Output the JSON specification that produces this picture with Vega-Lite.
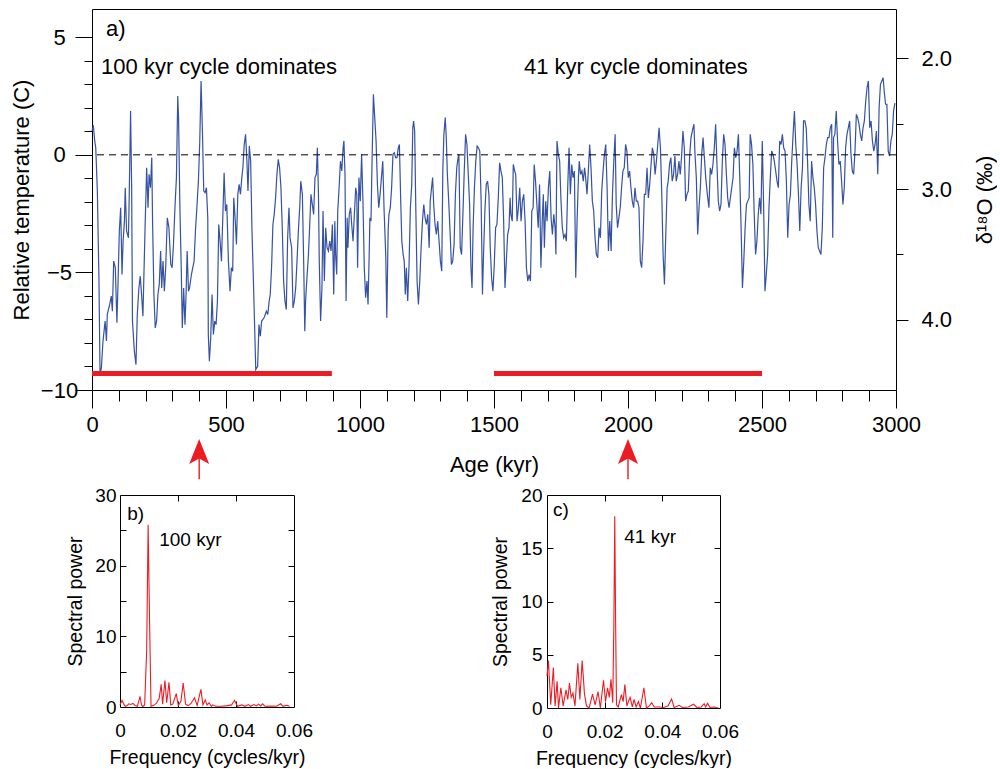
{
  "$schema": "https://vega.github.io/schema/vega-lite/v6.json",
  "padding": {"left": 9, "top": 8, "right": 0, "bottom": 0},
  "config": {
    "font": "Liberation Sans",
    "view": {"stroke": "#000", "strokeWidth": 1},
    "axis": {"domain": false, "grid": false, "labelFont": "Liberation Sans", "titleFont": "Liberation Sans", "labelColor": "#000", "titleColor": "#000", "tickColor": "#000", "titleFontWeight": "normal", "labelFlush": false, "tickWidth": 1},
    "text": {"font": "Liberation Sans", "color": "#000"}
  },
  "datasets": {
    "temp": [
      {"age":0,"temp":1.0},{"age":5,"temp":1.25},{"age":10,"temp":0.6},{"age":14,"temp":0.3},{"age":20,"temp":-1.54},{"age":26,"temp":-5.37},{"age":30,"temp":-9.34},{"age":35,"temp":-9.06},{"age":41,"temp":-7.92},{"age":49,"temp":-7.07},{"age":54,"temp":-7.92},{"age":57,"temp":-6.79},{"age":66,"temp":-6.36},{"age":72,"temp":-6.01},{"age":76,"temp":-6.65},{"age":81,"temp":-4.52},{"age":87,"temp":-4.8},{"age":93,"temp":-7.14},{"age":97,"temp":-5.51},{"age":102,"temp":-3.24},{"age":107,"temp":-2.25},{"age":112,"temp":-5.09},{"age":116,"temp":-3.67},{"age":121,"temp":-2.82},{"age":124,"temp":-1.4},{"age":129,"temp":-3.24},{"age":136,"temp":-3.53},{"age":139,"temp":-1.68},{"age":144,"temp":1.86},{"age":148,"temp":-1.4},{"age":151,"temp":-7.07},{"age":158,"temp":-8.35},{"age":164,"temp":-8.92},{"age":169,"temp":-6.79},{"age":175,"temp":-5.66},{"age":180,"temp":-5.16},{"age":185,"temp":-5.94},{"age":190,"temp":-6.86},{"age":198,"temp":-3.1},{"age":204,"temp":-0.55},{"age":209,"temp":-2.25},{"age":213,"temp":-0.83},{"age":218,"temp":-1.4},{"age":223,"temp":-0.12},{"age":226,"temp":-2.82},{"age":231,"temp":-5.94},{"age":236,"temp":-7.36},{"age":241,"temp":-7.07},{"age":246,"temp":-5.94},{"age":251,"temp":-5.51},{"age":256,"temp":-4.09},{"age":260,"temp":-5.66},{"age":265,"temp":-4.52},{"age":270,"temp":-5.8},{"age":275,"temp":-4.8},{"age":281,"temp":-2.68},{"age":287,"temp":-3.1},{"age":294,"temp":-4.66},{"age":299,"temp":-4.8},{"age":304,"temp":-3.81},{"age":310,"temp":-2.11},{"age":315,"temp":-0.97},{"age":320,"temp":2.5},{"age":323,"temp":1.58},{"age":328,"temp":-2.25},{"age":333,"temp":-4.8},{"age":337,"temp":-7.36},{"age":342,"temp":-5.66},{"age":347,"temp":-7.22},{"age":351,"temp":-5.94},{"age":355,"temp":-4.09},{"age":360,"temp":-5.8},{"age":364,"temp":-5.66},{"age":371,"temp":-5.09},{"age":376,"temp":-4.8},{"age":381,"temp":-4.52},{"age":386,"temp":-3.24},{"age":392,"temp":-2.11},{"age":397,"temp":-1.12},{"age":402,"temp":0.52},{"age":407,"temp":3.14},{"age":412,"temp":1.01},{"age":417,"temp":-1.54},{"age":422,"temp":-1.61},{"age":427,"temp":-1.4},{"age":432,"temp":-2.68},{"age":434,"temp":-7.64},{"age":438,"temp":-8.78},{"age":443,"temp":-7.78},{"age":448,"temp":-5.94},{"age":453,"temp":-7.64},{"age":458,"temp":-7.07},{"age":463,"temp":-7.22},{"age":468,"temp":-6.22},{"age":473,"temp":-2.96},{"age":478,"temp":-3.67},{"age":483,"temp":-4.52},{"age":488,"temp":-2.68},{"age":493,"temp":-0.76},{"age":498,"temp":-2.39},{"age":503,"temp":-2.11},{"age":509,"temp":-4.52},{"age":515,"temp":-5.8},{"age":520,"temp":-4.8},{"age":525,"temp":-4.95},{"age":529,"temp":-1.83},{"age":534,"temp":-2.68},{"age":539,"temp":-3.81},{"age":544,"temp":-1.68},{"age":549,"temp":-1.26},{"age":554,"temp":-1.68},{"age":559,"temp":-0.97},{"age":563,"temp":-0.55},{"age":568,"temp":0.44},{"age":573,"temp":0.87},{"age":578,"temp":-0.27},{"age":582,"temp":-1.54},{"age":587,"temp":0.37},{"age":592,"temp":-0.27},{"age":597,"temp":-3.24},{"age":602,"temp":-5.23},{"age":607,"temp":-7.36},{"age":611,"temp":-9.13},{"age":618,"temp":-8.99},{"age":623,"temp":-7.22},{"age":628,"temp":-7.71},{"age":633,"temp":-7.07},{"age":642,"temp":-6.93},{"age":651,"temp":-6.65},{"age":656,"temp":-6.79},{"age":661,"temp":-6.22},{"age":665,"temp":-5.94},{"age":670,"temp":-4.8},{"age":675,"temp":-2.96},{"age":680,"temp":-2.53},{"age":685,"temp":-1.83},{"age":690,"temp":-0.83},{"age":695,"temp":-0.19},{"age":700,"temp":-0.55},{"age":705,"temp":-1.4},{"age":710,"temp":-3.1},{"age":715,"temp":-5.37},{"age":720,"temp":-6.22},{"age":725,"temp":-6.58},{"age":730,"temp":-3.53},
      {"age":735,"temp":-2.25},{"age":739,"temp":-3.53},{"age":745,"temp":-3.95},{"age":750,"temp":-6.51},{"age":755,"temp":-6.22},{"age":760,"temp":-5.66},{"age":765,"temp":-4.52},{"age":770,"temp":-3.24},{"age":775,"temp":-2.25},{"age":779,"temp":-1.12},{"age":785,"temp":-1.68},{"age":790,"temp":-4.66},{"age":794,"temp":-7.5},{"age":797,"temp":-6.22},{"age":802,"temp":-5.23},{"age":807,"temp":-4.38},{"age":812,"temp":-3.1},{"age":817,"temp":-1.68},{"age":822,"temp":-2.11},{"age":827,"temp":-2.53},{"age":832,"temp":-0.97},{"age":837,"temp":-0.83},{"age":841,"temp":0.3},{"age":845,"temp":-1.68},{"age":848,"temp":-4.52},{"age":853,"temp":-7.07},{"age":858,"temp":-5.66},{"age":862,"temp":-2.39},{"age":867,"temp":-5.37},{"age":872,"temp":-3.1},{"age":877,"temp":-3.95},{"age":882,"temp":-4.09},{"age":887,"temp":-3.67},{"age":892,"temp":-4.09},{"age":897,"temp":-2.96},{"age":902,"temp":-5.94},{"age":906,"temp":-2.82},{"age":909,"temp":-4.24},{"age":913,"temp":-5.09},{"age":917,"temp":-2.39},{"age":922,"temp":-1.4},{"age":927,"temp":-0.27},{"age":932,"temp":-0.69},{"age":937,"temp":0.3},{"age":940,"temp":0.59},{"age":944,"temp":-0.83},{"age":948,"temp":-6.22},{"age":952,"temp":-2.68},{"age":955,"temp":-3.95},{"age":960,"temp":-2.53},{"age":965,"temp":-2.25},{"age":969,"temp":-2.96},{"age":974,"temp":-3.67},{"age":979,"temp":-2.53},{"age":984,"temp":-1.4},{"age":988,"temp":-1.68},{"age":991,"temp":-4.8},{"age":996,"temp":-0.97},{"age":1001,"temp":-1.97},{"age":1006,"temp":0.02},{"age":1011,"temp":-1.97},{"age":1016,"temp":-4.8},{"age":1021,"temp":-6.08},{"age":1026,"temp":-5.37},{"age":1030,"temp":-6.36},{"age":1034,"temp":-4.38},{"age":1037,"temp":-2.68},{"age":1041,"temp":-2.82},{"age":1045,"temp":-0.27},{"age":1050,"temp":2.57},{"age":1055,"temp":1.58},{"age":1060,"temp":0.59},{"age":1065,"temp":-1.26},{"age":1070,"temp":-2.25},{"age":1075,"temp":-1.68},{"age":1080,"temp":-0.97},{"age":1085,"temp":-0.27},{"age":1090,"temp":-2.39},{"age":1096,"temp":-4.24},{"age":1100,"temp":-6.93},{"age":1105,"temp":-3.24},{"age":1108,"temp":-2.53},{"age":1113,"temp":-2.25},{"age":1118,"temp":-1.4},{"age":1123,"temp":0.02},{"age":1128,"temp":0.09},{"age":1133,"temp":-0.12},{"age":1138,"temp":-0.12},{"age":1143,"temp":0.3},{"age":1147,"temp":0.44},{"age":1152,"temp":-1.97},{"age":1156,"temp":-3.67},{"age":1161,"temp":-4.24},{"age":1165,"temp":-4.52},{"age":1169,"temp":-5.94},{"age":1173,"temp":-4.8},{"age":1178,"temp":-6.22},{"age":1183,"temp":-4.66},{"age":1188,"temp":-2.25},{"age":1193,"temp":-1.26},{"age":1197,"temp":1.15},{"age":1200,"temp":1.44},{"age":1204,"temp":1.01},{"age":1208,"temp":-2.11},{"age":1213,"temp":-5.37},{"age":1218,"temp":-6.36},{"age":1223,"temp":-5.37},{"age":1228,"temp":-3.95},{"age":1233,"temp":-2.82},{"age":1238,"temp":-2.11},{"age":1243,"temp":-2.68},{"age":1248,"temp":-2.96},{"age":1253,"temp":-2.53},{"age":1258,"temp":-3.95},{"age":1262,"temp":-1.97},{"age":1267,"temp":-1.4},{"age":1271,"temp":-0.97},{"age":1275,"temp":-2.11},{"age":1280,"temp":-2.96},{"age":1285,"temp":-3.39},{"age":1290,"temp":-2.82},{"age":1295,"temp":-3.67},{"age":1300,"temp":-4.52},{"age":1305,"temp":-4.95},{"age":1309,"temp":-0.69},{"age":1313,"temp":0.87},{"age":1318,"temp":1.58},{"age":1322,"temp":0.73},{"age":1326,"temp":-0.83},{"age":1331,"temp":-1.97},{"age":1336,"temp":-3.24},{"age":1341,"temp":-4.66},{"age":1346,"temp":-4.52},{"age":1351,"temp":-3.81},{"age":1356,"temp":-1.68},{"age":1361,"temp":-0.55},{"age":1366,"temp":-0.12},{"age":1369,"temp":0.02},{"age":1374,"temp":-3.95},{"age":1379,"temp":-4.24},{"age":1384,"temp":-2.53},{"age":1389,"temp":-0.69},{"age":1394,"temp":0.87},{"age":1399,"temp":0.44},{"age":1404,"temp":-0.83},{"age":1409,"temp":-2.11},{"age":1414,"temp":-4.8},{"age":1418,"temp":-5.66},{"age":1422,"temp":-3.1},{"age":1427,"temp":-1.4},{"age":1432,"temp":-0.27},{"age":1437,"temp":0.37},{"age":1442,"temp":0.3},{"age":1447,"temp":0.16},{"age":1452,"temp":-1.97},{"age":1457,"temp":-5.94},{"age":1461,"temp":-4.24},{"age":1466,"temp":-2.39},{"age":1471,"temp":-1.26},{"age":1476,"temp":-1.12},{"age":1481,"temp":-1.68},{"age":1486,"temp":-3.95},{"age":1491,"temp":-5.23},{"age":1496,"temp":-5.8},
      {"age":1501,"temp":-4.66},{"age":1506,"temp":-3.1},{"age":1511,"temp":-2.96},{"age":1516,"temp":-1.83},{"age":1521,"temp":-0.34},{"age":1526,"temp":-0.69},{"age":1531,"temp":-0.97},{"age":1536,"temp":-2.82},{"age":1541,"temp":-5.66},{"age":1546,"temp":-4.52},{"age":1551,"temp":-3.39},{"age":1556,"temp":-3.1},{"age":1560,"temp":-1.83},{"age":1563,"temp":-2.53},{"age":1568,"temp":-2.82},{"age":1572,"temp":-0.41},{"age":1577,"temp":-0.69},{"age":1581,"temp":-0.83},{"age":1586,"temp":-2.82},{"age":1591,"temp":-2.25},{"age":1596,"temp":-1.4},{"age":1601,"temp":-2.82},{"age":1606,"temp":-1.97},{"age":1611,"temp":-1.68},{"age":1616,"temp":-2.82},{"age":1621,"temp":-4.8},{"age":1626,"temp":-5.37},{"age":1631,"temp":-5.09},{"age":1636,"temp":-5.37},{"age":1641,"temp":-2.39},{"age":1646,"temp":-2.25},{"age":1650,"temp":-0.41},{"age":1655,"temp":-1.12},{"age":1660,"temp":-2.11},{"age":1665,"temp":-3.1},{"age":1670,"temp":-1.26},{"age":1675,"temp":-4.8},{"age":1680,"temp":-2.82},{"age":1684,"temp":-1.68},{"age":1688,"temp":-3.95},{"age":1693,"temp":-1.97},{"age":1698,"temp":-2.82},{"age":1703,"temp":-1.4},{"age":1708,"temp":-0.69},{"age":1713,"temp":-2.68},{"age":1718,"temp":-3.39},{"age":1723,"temp":-2.53},{"age":1728,"temp":-3.1},{"age":1731,"temp":-4.24},{"age":1735,"temp":0.59},{"age":1740,"temp":0.02},{"age":1745,"temp":-0.27},{"age":1750,"temp":-1.97},{"age":1755,"temp":-3.1},{"age":1760,"temp":-3.53},{"age":1765,"temp":-3.39},{"age":1770,"temp":-3.67},{"age":1775,"temp":-1.4},{"age":1780,"temp":0.3},{"age":1785,"temp":-1.68},{"age":1790,"temp":-0.41},{"age":1795,"temp":-0.97},{"age":1800,"temp":-0.69},{"age":1805,"temp":-5.23},{"age":1810,"temp":-2.82},{"age":1815,"temp":-0.97},{"age":1818,"temp":-0.27},{"age":1823,"temp":-0.83},{"age":1828,"temp":-0.69},{"age":1833,"temp":-1.12},{"age":1838,"temp":-0.55},{"age":1842,"temp":-0.97},{"age":1847,"temp":-1.68},{"age":1852,"temp":-0.69},{"age":1857,"temp":0.44},{"age":1862,"temp":-0.55},{"age":1867,"temp":-1.97},{"age":1872,"temp":-2.39},{"age":1877,"temp":-3.53},{"age":1882,"temp":-4.24},{"age":1887,"temp":-4.38},{"age":1892,"temp":-3.1},{"age":1897,"temp":-3.53},{"age":1902,"temp":-1.54},{"age":1907,"temp":-0.69},{"age":1912,"temp":0.02},{"age":1917,"temp":0.44},{"age":1922,"temp":-1.4},{"age":1927,"temp":-4.09},{"age":1932,"temp":-2.82},{"age":1937,"temp":-4.09},{"age":1942,"temp":-1.68},{"age":1947,"temp":-0.27},{"age":1952,"temp":0.87},{"age":1956,"temp":-2.11},{"age":1961,"temp":-3.1},{"age":1966,"temp":-2.68},{"age":1971,"temp":-2.25},{"age":1976,"temp":-1.4},{"age":1981,"temp":-0.69},{"age":1986,"temp":-0.55},{"age":1991,"temp":0.44},{"age":1996,"temp":0.16},{"age":2001,"temp":-0.97},{"age":2006,"temp":-0.69},{"age":2011,"temp":-1.4},{"age":2016,"temp":-1.97},{"age":2021,"temp":-2.25},{"age":2026,"temp":-1.4},{"age":2031,"temp":-1.97},{"age":2036,"temp":-1.97},{"age":2041,"temp":-2.25},{"age":2046,"temp":-4.52},{"age":2051,"temp":-4.8},{"age":2056,"temp":-3.67},{"age":2061,"temp":-1.68},{"age":2066,"temp":-1.68},{"age":2071,"temp":-0.55},{"age":2076,"temp":-1.83},{"age":2081,"temp":-1.26},{"age":2086,"temp":-0.41},{"age":2091,"temp":0.3},{"age":2096,"temp":0.02},{"age":2101,"temp":-0.83},{"age":2106,"temp":-0.27},{"age":2111,"temp":0.44},{"age":2116,"temp":1.15},{"age":2121,"temp":0.3},{"age":2126,"temp":-1.68},{"age":2131,"temp":-4.24},{"age":2136,"temp":-5.51},{"age":2141,"temp":-3.39},{"age":2146,"temp":-1.4},{"age":2150,"temp":-1.12},{"age":2155,"temp":-0.41},{"age":2160,"temp":-0.12},{"age":2165,"temp":-1.12},{"age":2170,"temp":-0.83},{"age":2175,"temp":-0.05},{"age":2180,"temp":-1.12},{"age":2185,"temp":-0.83},{"age":2190,"temp":-0.27},{"age":2195,"temp":-0.83},{"age":2200,"temp":-0.05},{"age":2205,"temp":1.01},{"age":2210,"temp":0.3},{"age":2215,"temp":-1.97},{"age":2220,"temp":-1.68},{"age":2225,"temp":-1.54},{"age":2230,"temp":-0.05},{"age":2235,"temp":0.73},{"age":2240,"temp":1.01},{"age":2246,"temp":1.3},
      {"age":2250,"temp":0.02},{"age":2255,"temp":-0.97},{"age":2260,"temp":-3.39},{"age":2265,"temp":-2.25},{"age":2270,"temp":-1.4},{"age":2275,"temp":0.02},{"age":2280,"temp":0.73},{"age":2285,"temp":-0.12},{"age":2290,"temp":-0.97},{"age":2296,"temp":-1.68},{"age":2302,"temp":-2.25},{"age":2307,"temp":-0.55},{"age":2312,"temp":-0.83},{"age":2317,"temp":-0.41},{"age":2322,"temp":0.3},{"age":2327,"temp":1.3},{"age":2332,"temp":-0.41},{"age":2337,"temp":-1.97},{"age":2342,"temp":-2.39},{"age":2347,"temp":-2.11},{"age":2352,"temp":-0.27},{"age":2357,"temp":0.87},{"age":2362,"temp":0.44},{"age":2367,"temp":-0.83},{"age":2372,"temp":-1.83},{"age":2377,"temp":-2.25},{"age":2382,"temp":-1.83},{"age":2387,"temp":-1.4},{"age":2392,"temp":-0.97},{"age":2397,"temp":0.3},{"age":2402,"temp":-0.12},{"age":2407,"temp":0.16},{"age":2412,"temp":0.87},{"age":2417,"temp":-0.97},{"age":2422,"temp":-3.1},{"age":2427,"temp":-5.66},{"age":2432,"temp":-4.52},{"age":2437,"temp":-3.1},{"age":2442,"temp":-2.11},{"age":2447,"temp":-1.97},{"age":2452,"temp":-1.83},{"age":2456,"temp":0.87},{"age":2461,"temp":0.44},{"age":2466,"temp":-0.41},{"age":2471,"temp":-2.53},{"age":2476,"temp":-4.24},{"age":2481,"temp":-3.67},{"age":2486,"temp":-2.53},{"age":2491,"temp":-1.83},{"age":2496,"temp":-2.53},{"age":2501,"temp":0.59},{"age":2506,"temp":-2.11},{"age":2511,"temp":-5.8},{"age":2516,"temp":-5.09},{"age":2521,"temp":-4.24},{"age":2526,"temp":-2.25},{"age":2531,"temp":-0.97},{"age":2536,"temp":0.16},{"age":2541,"temp":0.02},{"age":2546,"temp":-0.27},{"age":2551,"temp":-0.69},{"age":2556,"temp":-1.12},{"age":2561,"temp":-1.4},{"age":2566,"temp":0.59},{"age":2571,"temp":0.44},{"age":2576,"temp":0.87},{"age":2581,"temp":0.3},{"age":2586,"temp":0.16},{"age":2591,"temp":-1.12},{"age":2596,"temp":-3.53},{"age":2601,"temp":-2.11},{"age":2606,"temp":-1.68},{"age":2611,"temp":-0.27},{"age":2616,"temp":0.87},{"age":2621,"temp":1.86},{"age":2626,"temp":0.44},{"age":2631,"temp":-0.41},{"age":2636,"temp":-1.68},{"age":2641,"temp":-3.24},{"age":2646,"temp":-1.4},{"age":2651,"temp":-0.55},{"age":2655,"temp":1.44},{"age":2660,"temp":1.44},{"age":2665,"temp":1.15},{"age":2670,"temp":-0.27},{"age":2675,"temp":-2.11},{"age":2680,"temp":-2.82},{"age":2685,"temp":-0.27},{"age":2690,"temp":-0.97},{"age":2695,"temp":-1.4},{"age":2700,"temp":-2.11},{"age":2705,"temp":-3.24},{"age":2710,"temp":-3.95},{"age":2715,"temp":-4.09},{"age":2720,"temp":-4.24},{"age":2725,"temp":-3.1},{"age":2730,"temp":-0.55},{"age":2735,"temp":-0.12},{"age":2740,"temp":0.44},{"age":2745,"temp":0.73},{"age":2750,"temp":0.73},{"age":2755,"temp":1.15},{"age":2760,"temp":1.3},{"age":2764,"temp":-3.53},{"age":2767,"temp":0.73},{"age":2772,"temp":0.87},{"age":2777,"temp":1.86},{"age":2782,"temp":0.59},{"age":2787,"temp":-0.41},{"age":2792,"temp":-0.27},{"age":2797,"temp":-1.12},{"age":2802,"temp":-2.11},{"age":2807,"temp":-1.4},{"age":2812,"temp":0.3},{"age":2817,"temp":0.87},{"age":2822,"temp":1.15},{"age":2827,"temp":1.44},{"age":2832,"temp":0.02},{"age":2837,"temp":-0.69},{"age":2842,"temp":-0.83},{"age":2847,"temp":0.16},{"age":2852,"temp":1.72},{"age":2857,"temp":1.58},{"age":2862,"temp":1.3},{"age":2867,"temp":0.87},{"age":2872,"temp":0.59},{"age":2877,"temp":1.15},{"age":2882,"temp":1.44},{"age":2887,"temp":2.29},{"age":2892,"temp":2.86},{"age":2897,"temp":3.14},{"age":2902,"temp":1.15},{"age":2907,"temp":1.44},{"age":2912,"temp":0.59},{"age":2917,"temp":0.16},{"age":2922,"temp":0.44},{"age":2927,"temp":1.01},{"age":2932,"temp":-0.83},{"age":2937,"temp":2.0},{"age":2942,"temp":3.0},{"age":2947,"temp":3.14},{"age":2952,"temp":3.28},{"age":2956,"temp":2.71},{"age":2961,"temp":2.15},{"age":2966,"temp":2.15},{"age":2971,"temp":0.16},{"age":2976,"temp":-0.05},{"age":2981,"temp":0.59},{"age":2986,"temp":0.87},{"age":2991,"temp":1.86},{"age":2996,"temp":2.2}
    ],
    "specB": [
      {"f":0,"p":0.3},{"f":0.0007,"p":0.95},{"f":0.0013,"p":0.4},{"f":0.0018,"p":0.1},{"f":0.0025,"p":0.2},{"f":0.003,"p":0.45},{"f":0.0037,"p":0.35},{"f":0.0045,"p":0.5},{"f":0.0052,"p":0.2},{"f":0.006,"p":0.1},{"f":0.0069,"p":1.5},{"f":0.0074,"p":0.3},{"f":0.0078,"p":0.05},{"f":0.0085,"p":0.3},{"f":0.0092,"p":8},{"f":0.0097,"p":25.8},{"f":0.0102,"p":12},{"f":0.0107,"p":0.1},{"f":0.0115,"p":0.2},{"f":0.0125,"p":0.5},{"f":0.0135,"p":1.2},{"f":0.0142,"p":3.2},{"f":0.0147,"p":0.4},{"f":0.0155,"p":3.75},{"f":0.0161,"p":0.6},{"f":0.0169,"p":3.5},{"f":0.0175,"p":0.3},{"f":0.0182,"p":0.4},{"f":0.0194,"p":1.9},{"f":0.0201,"p":0.2},{"f":0.021,"p":0.8},{"f":0.0218,"p":3.4},{"f":0.0226,"p":0.4},{"f":0.0235,"p":0.2},{"f":0.0245,"p":0.5},{"f":0.0257,"p":1.3},{"f":0.0266,"p":0.2},{"f":0.0279,"p":2.5},{"f":0.0286,"p":0.3},{"f":0.0294,"p":1.0},{"f":0.03,"p":0.3},{"f":0.0307,"p":0.6},{"f":0.0315,"p":0.1},{"f":0.032,"p":0.3},{"f":0.033,"p":0.1},{"f":0.035,"p":0.1},{"f":0.037,"p":0.2},{"f":0.0385,"p":0.3},{"f":0.0395,"p":0.95},{"f":0.0405,"p":0.1},{"f":0.042,"p":0.3},{"f":0.043,"p":0.1},{"f":0.0443,"p":0.35},{"f":0.045,"p":0.1},{"f":0.0462,"p":0.35},{"f":0.047,"p":0.15},{"f":0.0478,"p":0.4},{"f":0.0485,"p":0.15},{"f":0.0492,"p":0.45},{"f":0.05,"p":0.1},{"f":0.052,"p":0.15},{"f":0.054,"p":0.1},{"f":0.0554,"p":0.45},{"f":0.0562,"p":0.1},{"f":0.0575,"p":0.25},{"f":0.0585,"p":0.1}
    ],
    "specC": [
      {"f":0,"p":3.0},{"f":0.0005,"p":4.45},{"f":0.0013,"p":0.3},{"f":0.0022,"p":3.8},{"f":0.0028,"p":0.2},{"f":0.0035,"p":2.5},{"f":0.004,"p":0.0},{"f":0.0048,"p":1.9},{"f":0.0056,"p":0.2},{"f":0.0066,"p":1.7},{"f":0.0072,"p":0.8},{"f":0.0078,"p":2.35},{"f":0.0084,"p":1.0},{"f":0.009,"p":1.4},{"f":0.0097,"p":0.2},{"f":0.0107,"p":4.2},{"f":0.0114,"p":0.8},{"f":0.0122,"p":4.45},{"f":0.013,"p":1.3},{"f":0.0137,"p":0.2},{"f":0.0146,"p":0.0},{"f":0.0158,"p":1.3},{"f":0.0167,"p":0.3},{"f":0.0177,"p":1.55},{"f":0.0185,"p":0.0},{"f":0.0196,"p":2.6},{"f":0.0203,"p":0.6},{"f":0.021,"p":1.9},{"f":0.0216,"p":1.0},{"f":0.0222,"p":2.7},{"f":0.0228,"p":0.5},{"f":0.0232,"p":8},{"f":0.0235,"p":18.0},{"f":0.0238,"p":8},{"f":0.0241,"p":0.3},{"f":0.0247,"p":0.1},{"f":0.0258,"p":1.25},{"f":0.0264,"p":0.6},{"f":0.027,"p":2.2},{"f":0.0277,"p":0.2},{"f":0.0288,"p":1.0},{"f":0.0296,"p":0.1},{"f":0.0302,"p":0.8},{"f":0.0309,"p":0.1},{"f":0.0317,"p":0.6},{"f":0.0324,"p":0.0},{"f":0.0336,"p":1.9},{"f":0.0345,"p":0.0},{"f":0.0355,"p":0.2},{"f":0.0363,"p":0.5},{"f":0.0372,"p":0.1},{"f":0.039,"p":0.1},{"f":0.0405,"p":0.05},{"f":0.042,"p":0.2},{"f":0.0432,"p":0.85},{"f":0.0441,"p":0.05},{"f":0.0458,"p":0.25},{"f":0.047,"p":0.05},{"f":0.049,"p":0.1},{"f":0.0508,"p":0.35},{"f":0.052,"p":0.05},{"f":0.0535,"p":0.1},{"f":0.0545,"p":0.4},{"f":0.055,"p":0.1},{"f":0.0557,"p":0.45},{"f":0.0565,"p":0.05},{"f":0.058,"p":0.1},{"f":0.0594,"p":0.0}
    ]
  },
  "vconcat": [
    {
      "width": 804,
      "height": 381,
      "layer": [
        {
          "data": {"name": "temp"},
          "mark": {"type": "line", "color": "#3552a4", "strokeWidth": 1.2},
          "encoding": {
            "x": {"field": "age", "type": "quantitative", "scale": {"domain": [0, 3000], "nice": false, "zero": false},
              "axis": {"orient": "bottom", "values": [0, 500, 1000, 1500, 2000, 2500, 3000], "format": "d", "tickSize": 18, "labelPadding": 6, "labelFontSize": 22, "title": "Age (kyr)", "titleFontSize": 22, "titlePadding": 19}},
            "y": {"field": "temp", "type": "quantitative", "scale": {"domain": [-10, 6.2], "nice": false, "zero": false},
              "axis": {"orient": "left", "values": [-10, -5, 0, 5], "tickSize": 17, "labelPadding": 16, "labelAlign": "center", "labelFontSize": 22, "title": "Relative temperature (C)", "titleFontSize": 22, "titlePadding": 7}}
          }
        },
        {
          "data": {"values": [{"age": 0, "temp": 0}]},
          "mark": {"type": "point", "opacity": 0},
          "encoding": {
            "x": {"field": "age", "type": "quantitative", "scale": {"domain": [0, 3000], "nice": false, "zero": false},
              "axis": {"orient": "bottom", "values": [100, 200, 300, 400, 600, 700, 800, 900, 1100, 1200, 1300, 1400, 1600, 1700, 1800, 1900, 2100, 2200, 2300, 2400, 2600, 2700, 2800, 2900], "tickSize": 11, "labels": false, "title": null}},
            "y": {"field": "temp", "type": "quantitative", "scale": {"domain": [-10, 6.2], "nice": false, "zero": false},
              "axis": {"orient": "left", "values": [-9, -8, -7, -6, -4, -3, -2, -1, 1, 2, 3, 4], "tickSize": 8, "labels": false, "title": null}}
          }
        },
        {
          "data": {"values": [{}]},
          "mark": {"type": "rule", "color": "#000", "strokeWidth": 1, "strokeDash": [7, 5]},
          "encoding": {
            "y": {"datum": 0, "type": "quantitative", "scale": {"domain": [-10, 6.2], "nice": false, "zero": false}, "axis": null}
          }
        },
        {
          "data": {"values": [{"start": 0, "end": 895}, {"start": 1500, "end": 2500}]},
          "mark": {"type": "rule", "color": "#ec1c24", "strokeWidth": 5, "strokeCap": "butt"},
          "encoding": {
            "x": {"field": "start", "type": "quantitative", "scale": {"domain": [0, 3000], "nice": false, "zero": false}, "axis": null},
            "x2": {"field": "end"},
            "y": {"datum": -9.3, "type": "quantitative", "scale": {"domain": [-10, 6.2], "nice": false, "zero": false}, "axis": null}
          }
        },
        {
          "data": {"values": [{"age": 400}, {"age": 2000}]},
          "mark": {"type": "rule", "color": "#ee2a2f", "strokeWidth": 1.5},
          "encoding": {
            "x": {"field": "age", "type": "quantitative", "scale": {"domain": [0, 3000], "nice": false, "zero": false}, "axis": null},
            "y": {"datum": -12.8, "type": "quantitative", "scale": {"domain": [-10, 6.2], "nice": false, "zero": false}, "axis": null},
            "y2": {"datum": -13.79}
          }
        },
        {
          "data": {"values": [{"age": 400}, {"age": 2000}]},
          "mark": {"type": "point", "shape": "M0,-1L0.8,1L0,0.55L-0.8,1Z", "size": 625, "filled": true, "color": "#ec1c24", "opacity": 1, "strokeWidth": 0},
          "encoding": {
            "x": {"field": "age", "type": "quantitative", "scale": {"domain": [0, 3000], "nice": false, "zero": false}, "axis": null},
            "y": {"datum": -12.62, "type": "quantitative", "scale": {"domain": [-10, 6.2], "nice": false, "zero": false}, "axis": null}
          }
        },
        {
          "data": {"values": [{}]},
          "mark": {"type": "text", "text": "a)", "fontSize": 22, "align": "left", "baseline": "alphabetic"},
          "encoding": {
            "x": {"datum": 52, "type": "quantitative", "scale": {"domain": [0, 3000], "nice": false, "zero": false}, "axis": null},
            "y": {"datum": 5.05, "type": "quantitative", "scale": {"domain": [-10, 6.2], "nice": false, "zero": false}, "axis": null}
          }
        },
        {
          "data": {"values": [{}]},
          "mark": {"type": "text", "text": "100 kyr cycle dominates", "fontSize": 22, "align": "left", "baseline": "alphabetic"},
          "encoding": {
            "x": {"datum": 34, "type": "quantitative", "scale": {"domain": [0, 3000], "nice": false, "zero": false}, "axis": null},
            "y": {"datum": 3.44, "type": "quantitative", "scale": {"domain": [-10, 6.2], "nice": false, "zero": false}, "axis": null}
          }
        },
        {
          "data": {"values": [{}]},
          "mark": {"type": "text", "text": "41 kyr cycle dominates", "fontSize": 22, "align": "left", "baseline": "alphabetic"},
          "encoding": {
            "x": {"datum": 1612, "type": "quantitative", "scale": {"domain": [0, 3000], "nice": false, "zero": false}, "axis": null},
            "y": {"datum": 3.44, "type": "quantitative", "scale": {"domain": [-10, 6.2], "nice": false, "zero": false}, "axis": null}
          }
        },
        {
          "data": {"values": [{"d18": 3}]},
          "mark": {"type": "point", "opacity": 0},
          "encoding": {
            "x": {"datum": 0, "type": "quantitative", "scale": {"domain": [0, 3000], "nice": false, "zero": false}, "axis": null},
            "y": {"field": "d18", "type": "quantitative", "scale": {"domain": [1.624, 4.536], "reverse": true, "nice": false, "zero": false},
              "axis": {"orient": "right", "values": [2, 3, 4], "format": ".1f", "tickSize": 12, "labelPadding": 13, "labelFontSize": 22, "title": "δ¹⁸O (‰)", "titleFontSize": 22, "titleAngle": 270, "titleBaseline": "top", "titlePadding": 23}}
          }
        },
        {
          "data": {"values": [{"d18m": 3}]},
          "mark": {"type": "point", "opacity": 0},
          "encoding": {
            "x": {"datum": 0, "type": "quantitative", "scale": {"domain": [0, 3000], "nice": false, "zero": false}, "axis": null},
            "y": {"field": "d18m", "type": "quantitative", "scale": {"domain": [1.624, 4.536], "reverse": true, "nice": false, "zero": false},
              "axis": {"orient": "right", "values": [2.5, 3.5], "tickSize": 7, "labels": false, "title": null}}
          }
        }
      ],
      "resolve": {"scale": {"y": "independent"}, "axis": {"x": "independent", "y": "independent"}}
    },
    {
      "hconcat": [
        {"width": 28, "height": 5, "data": {"values": [{}]}, "mark": {"type": "point", "opacity": 0}, "encoding": {}, "view": {"stroke": null}},
        {
          "width": 174,
          "height": 212,
          "layer": [
            {
              "data": {"name": "specB"},
              "mark": {"type": "line", "color": "#ec1c24", "strokeWidth": 1.1},
              "encoding": {
                "x": {"field": "f", "type": "quantitative", "scale": {"domain": [0, 0.06], "nice": false, "zero": false},
                  "axis": {"orient": "bottom", "values": [0, 0.02, 0.04, 0.06], "labelExpr": "datum.value == 0 ? '0' : format(datum.value, '.2f')", "ticks": false, "labelPadding": 14, "labelFontSize": 19, "title": "Frequency (cycles/kyr)", "titleFontSize": 19.5, "titlePadding": 8}},
                "y": {"field": "p", "type": "quantitative", "scale": {"domain": [0, 30], "nice": false, "zero": false},
                  "axis": {"orient": "left", "values": [0, 10, 20, 30], "ticks": false, "labelPadding": 4, "labelFontSize": 19, "title": "Spectral power", "titleFontSize": 19.5, "titlePadding": 9}}
              }
            },
            {
              "data": {"values": [{"f": 0, "p": 0}]},
              "mark": {"type": "point", "opacity": 0},
              "encoding": {
                "x": {"field": "f", "type": "quantitative", "scale": {"domain": [0, 0.06], "nice": false, "zero": false},
                  "axis": {"orient": "bottom", "values": [0.02, 0.04], "tickSize": 6, "offset": -6, "labels": false, "title": null}},
                "y": {"field": "p", "type": "quantitative", "scale": {"domain": [0, 30], "nice": false, "zero": false},
                  "axis": {"orient": "left", "values": [5, 10, 15, 20, 25], "tickSize": 6, "offset": -6, "labels": false, "title": null}}
              }
            },
            {
              "data": {"values": [{"f": 0, "p": 0}]},
              "mark": {"type": "point", "opacity": 0},
              "encoding": {
                "x": {"field": "f", "type": "quantitative", "scale": {"domain": [0, 0.06], "nice": false, "zero": false},
                  "axis": {"orient": "top", "values": [0.02, 0.04], "tickSize": 6, "offset": -6, "labels": false, "title": null}},
                "y": {"field": "p", "type": "quantitative", "scale": {"domain": [0, 30], "nice": false, "zero": false},
                  "axis": {"orient": "right", "values": [5, 10, 15, 20, 25], "tickSize": 6, "offset": -6, "labels": false, "title": null}}
              }
            },
            {
              "data": {"values": [{}]},
              "mark": {"type": "text", "text": "b)", "fontSize": 19, "align": "left", "baseline": "alphabetic"},
              "encoding": {
                "x": {"datum": 0.0025, "type": "quantitative", "scale": {"domain": [0, 0.06], "nice": false, "zero": false}, "axis": null},
                "y": {"datum": 26.5, "type": "quantitative", "scale": {"domain": [0, 30], "nice": false, "zero": false}, "axis": null}
              }
            },
            {
              "data": {"values": [{}]},
              "mark": {"type": "text", "text": "100 kyr", "fontSize": 19, "align": "left", "baseline": "alphabetic"},
              "encoding": {
                "x": {"datum": 0.0135, "type": "quantitative", "scale": {"domain": [0, 0.06], "nice": false, "zero": false}, "axis": null},
                "y": {"datum": 22.8, "type": "quantitative", "scale": {"domain": [0, 30], "nice": false, "zero": false}, "axis": null}
              }
            }
          ],
          "resolve": {"axis": {"x": "independent", "y": "independent"}}
        },
        {"width": 253, "height": 5, "data": {"values": [{}]}, "mark": {"type": "point", "opacity": 0}, "encoding": {}, "view": {"stroke": null}},
        {
          "width": 173,
          "height": 213,
          "layer": [
            {
              "data": {"name": "specC"},
              "mark": {"type": "line", "color": "#ec1c24", "strokeWidth": 1.1},
              "encoding": {
                "x": {"field": "f", "type": "quantitative", "scale": {"domain": [0, 0.06], "nice": false, "zero": false},
                  "axis": {"orient": "bottom", "values": [0, 0.02, 0.04, 0.06], "labelExpr": "datum.value == 0 ? '0' : format(datum.value, '.2f')", "ticks": false, "labelPadding": 14, "labelFontSize": 19, "title": "Frequency (cycles/kyr)", "titleFontSize": 19.5, "titlePadding": 8}},
                "y": {"field": "p", "type": "quantitative", "scale": {"domain": [0, 20], "nice": false, "zero": false},
                  "axis": {"orient": "left", "values": [0, 5, 10, 15, 20], "ticks": false, "labelPadding": 5, "labelFontSize": 19, "title": "Spectral power", "titleFontSize": 19.5, "titlePadding": 10}}
              }
            },
            {
              "data": {"values": [{"f": 0, "p": 0}]},
              "mark": {"type": "point", "opacity": 0},
              "encoding": {
                "x": {"field": "f", "type": "quantitative", "scale": {"domain": [0, 0.06], "nice": false, "zero": false},
                  "axis": {"orient": "bottom", "values": [0.02, 0.04], "tickSize": 6, "offset": -6, "labels": false, "title": null}},
                "y": {"field": "p", "type": "quantitative", "scale": {"domain": [0, 20], "nice": false, "zero": false},
                  "axis": {"orient": "left", "values": [5, 10, 15], "tickSize": 6, "offset": -6, "labels": false, "title": null}}
              }
            },
            {
              "data": {"values": [{"f": 0, "p": 0}]},
              "mark": {"type": "point", "opacity": 0},
              "encoding": {
                "x": {"field": "f", "type": "quantitative", "scale": {"domain": [0, 0.06], "nice": false, "zero": false},
                  "axis": {"orient": "top", "values": [0.02, 0.04], "tickSize": 6, "offset": -6, "labels": false, "title": null}},
                "y": {"field": "p", "type": "quantitative", "scale": {"domain": [0, 20], "nice": false, "zero": false},
                  "axis": {"orient": "right", "values": [5, 10, 15], "tickSize": 6, "offset": -6, "labels": false, "title": null}}
              }
            },
            {
              "data": {"values": [{}]},
              "mark": {"type": "text", "text": "c)", "fontSize": 19, "align": "left", "baseline": "alphabetic"},
              "encoding": {
                "x": {"datum": 0.0021, "type": "quantitative", "scale": {"domain": [0, 0.06], "nice": false, "zero": false}, "axis": null},
                "y": {"datum": 18.05, "type": "quantitative", "scale": {"domain": [0, 20], "nice": false, "zero": false}, "axis": null}
              }
            },
            {
              "data": {"values": [{}]},
              "mark": {"type": "text", "text": "41 kyr", "fontSize": 19, "align": "left", "baseline": "alphabetic"},
              "encoding": {
                "x": {"datum": 0.0268, "type": "quantitative", "scale": {"domain": [0, 0.06], "nice": false, "zero": false}, "axis": null},
                "y": {"datum": 15.5, "type": "quantitative", "scale": {"domain": [0, 20], "nice": false, "zero": false}, "axis": null}
              }
            }
          ],
          "resolve": {"axis": {"x": "independent", "y": "independent"}}
        }
      ],
      "spacing": 0,
      "bounds": "flush"
    }
  ],
  "spacing": 105,
  "bounds": "flush"
}
